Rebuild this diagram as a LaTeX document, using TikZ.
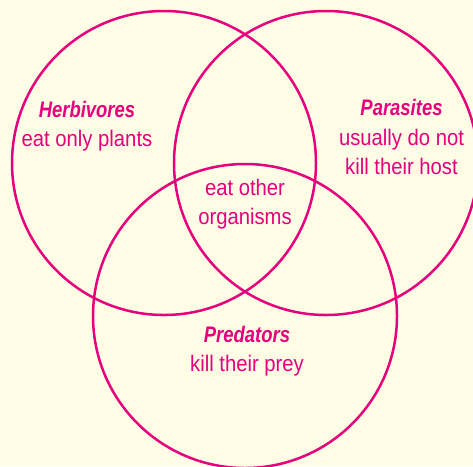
\documentclass[tikz,border=0pt]{standalone}
\usepackage{fontspec}
\setmainfont{Liberation Sans}
\newfontfamily\bodyfont[FakeStretch=0.9]{Liberation Sans}
\newfontfamily\headfont[FakeStretch=0.82]{Liberation Sans}
\usepackage{xcolor}
\usetikzlibrary{math}
\definecolor{mymagenta}{RGB}{230, 0, 126}
\definecolor{mycream}{RGB}{255, 253, 230}

\tikzset{
  ring/.style={draw=mymagenta, line width=2.5},
  venntext/.style={text=mymagenta, align=center, inner sep=0, font=\bodyfont\fontsize{22.5}{29.5}\selectfont},
}
\newcommand{\vennhead}[1]{{\headfont\bfseries\itshape #1}}

\begin{document}
\begin{tikzpicture}[x=1pt,y=-1pt]
\tikzmath{
\R=152;
\yT=163;
\yB=316;
}
\fill[mycream] (0,0) rectangle (473,466);
\useasboundingbox (0,0) rectangle (473,466);
\clip (0,0) rectangle (473,466);

\coordinate (herbc) at (164,\yT);
\coordinate (parac) at (326,\yT);
\coordinate (predc) at (245,\yB);

\draw[ring] (herbc) circle (\R);
\draw[ring] (parac) circle (\R);
\draw[ring] (predc) circle (\R);

\node[venntext] (herb) at (87,126) {\vennhead{Herbivores}\\eat only plants};
\node[venntext] (para) at (401.5,137) {\vennhead{Parasites}\\usually do not\\kill their host};
\node[venntext] (core) at (245,204) {eat other\\organisms};
\node[venntext] (pred) at (247,351) {\vennhead{Predators}\\kill their prey};
\end{tikzpicture}
\end{document}
